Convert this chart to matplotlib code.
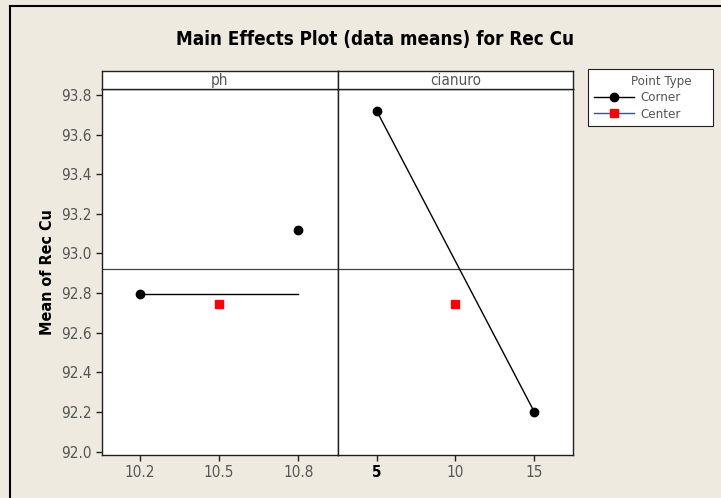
import matplotlib
matplotlib.use("Agg")
import matplotlib.pyplot as plt
from matplotlib.lines import Line2D

plt.rcParams['font.family'] = ['DejaVu Sans']
plt.rcParams['font.stretch'] = 'condensed'

# data
ph_levels = [10.2, 10.5, 10.8]
ph_corner_x = [10.2, 10.8]
ph_corner_line = [92.795, 92.795]
ph_extra_x = [10.8]
ph_extra_y = [93.12]
ph_center_x = [10.5]
ph_center_y = [92.745]

cn_levels = [5, 10, 15]
cn_corner_x = [5, 15]
cn_corner_y = [93.72, 92.20]
cn_center_x = [10]
cn_center_y = [92.745]

grand_mean = 92.92
yticks = [92.0, 92.2, 92.4, 92.6, 92.8, 93.0, 93.2, 93.4, 93.6, 93.8]

W, H = 721, 498
bg = '#EEEAE0'
tick_col = '#555555'

fig = plt.figure(figsize=(W / 100, H / 100), dpi=100, facecolor=bg)


def box(x0, y0, x1, y1):
    return [x0 / W, 1 - y1 / H, (x1 - x0) / W, (y1 - y0) / H]


ax1 = fig.add_axes(box(101.7, 89, 337.7, 455))
ax2 = fig.add_axes(box(337.7, 89, 573.3, 455), sharey=ax1)
s1 = fig.add_axes(box(101.7, 71, 337.7, 89))
s2 = fig.add_axes(box(337.7, 71, 573.3, 89))

for s, name in [(s1, 'ph'), (s2, 'cianuro')]:
    s.set_xticks([])
    s.set_yticks([])
    s.set_facecolor('white')
    for sp in s.spines.values():
        sp.set_linewidth(1.0)
        sp.set_color('#202020')
    s.text(0.5, 0.45, name, ha='center', va='center', fontsize=11,
           color=tick_col, transform=s.transAxes)

for ax in (ax1, ax2):
    ax.set_facecolor('white')
    for sp in ax.spines.values():
        sp.set_linewidth(1.0)
        sp.set_color('#202020')
    ax.tick_params(direction='out', length=4, width=1, colors='#202020',
                   labelcolor=tick_col, labelsize=11)
    ax.axhline(grand_mean, color='#404040', lw=0.9, zorder=1)

ax1.plot(ph_corner_x, ph_corner_line, color='black', lw=1.0, zorder=2)
ax1.plot(ph_corner_x[:1], ph_corner_line[:1], 'o', color='black', ms=6, zorder=3)
ax1.plot(ph_extra_x, ph_extra_y, 'o', color='black', ms=6, zorder=3)
ax1.plot(ph_center_x, ph_center_y, 's', color='#FF0000', ms=5.5, zorder=3)

ax2.plot(cn_corner_x, cn_corner_y, color='black', lw=1.0, marker='o', ms=6, zorder=2)
ax2.plot(cn_center_x, cn_center_y, 's', color='#FF0000', ms=5.5, zorder=3)

ax1.set_xlim(10.0545, 10.95)
ax2.set_xlim(2.53, 17.47)
ax1.set_ylim(91.983, 93.830)
ax1.set_yticks(yticks)
ax1.set_yticklabels([f'{v:.1f}' for v in yticks])
ax1.set_xticks(ph_levels)
ax1.set_xticklabels([str(v) for v in ph_levels])
ax2.set_xticks(cn_levels)
ax2.set_xticklabels([str(v) for v in cn_levels])
ax2.get_xticklabels()[0].set_fontweight('bold')
ax2.get_xticklabels()[0].set_color('black')
ax2.tick_params(axis='y', left=False, labelleft=False)

ax1.set_ylabel('Mean of Rec Cu', fontsize=11.5, fontweight='bold', labelpad=4)

fig.text(375 / W, 1 - 40 / H, 'Main Effects Plot (data means) for Rec Cu',
         ha='center', va='center', fontsize=13.5, fontweight='bold')

# legend
handles = [
    Line2D([], [], color='black', lw=1, marker='o', ms=6),
    Line2D([], [], color='#3050C0', lw=1, marker='s', mfc='#FF0000', mec='#FF0000', ms=6),
]
leg = fig.legend(handles, ['Corner', 'Center'], title='Point Type    ',
                 loc='upper left', bbox_to_anchor=(588 / W, 1 - 127 / H, 125 / W, 58 / H),
                 mode='expand', fontsize=9.5, title_fontsize=9.5, frameon=True,
                 fancybox=False, handlelength=3.0, handletextpad=0.5, borderpad=0.45,
                 borderaxespad=0, labelspacing=0.25, alignment='right',
                 facecolor='white', framealpha=1)
leg.get_frame().set_edgecolor('#202020')
leg.get_frame().set_linewidth(0.8)
for t in leg.get_texts():
    t.set_color(tick_col)
leg.get_title().set_color(tick_col)

# outer frame (left and top edges)
fig.add_artist(Line2D([10 / W, 10 / W], [0, 1 - 6 / H], color='black', lw=1.5))
fig.add_artist(Line2D([10 / W, 1], [1 - 6 / H, 1 - 6 / H], color='black', lw=1.5))

fig.savefig('out.png', dpi=100, facecolor=bg)
